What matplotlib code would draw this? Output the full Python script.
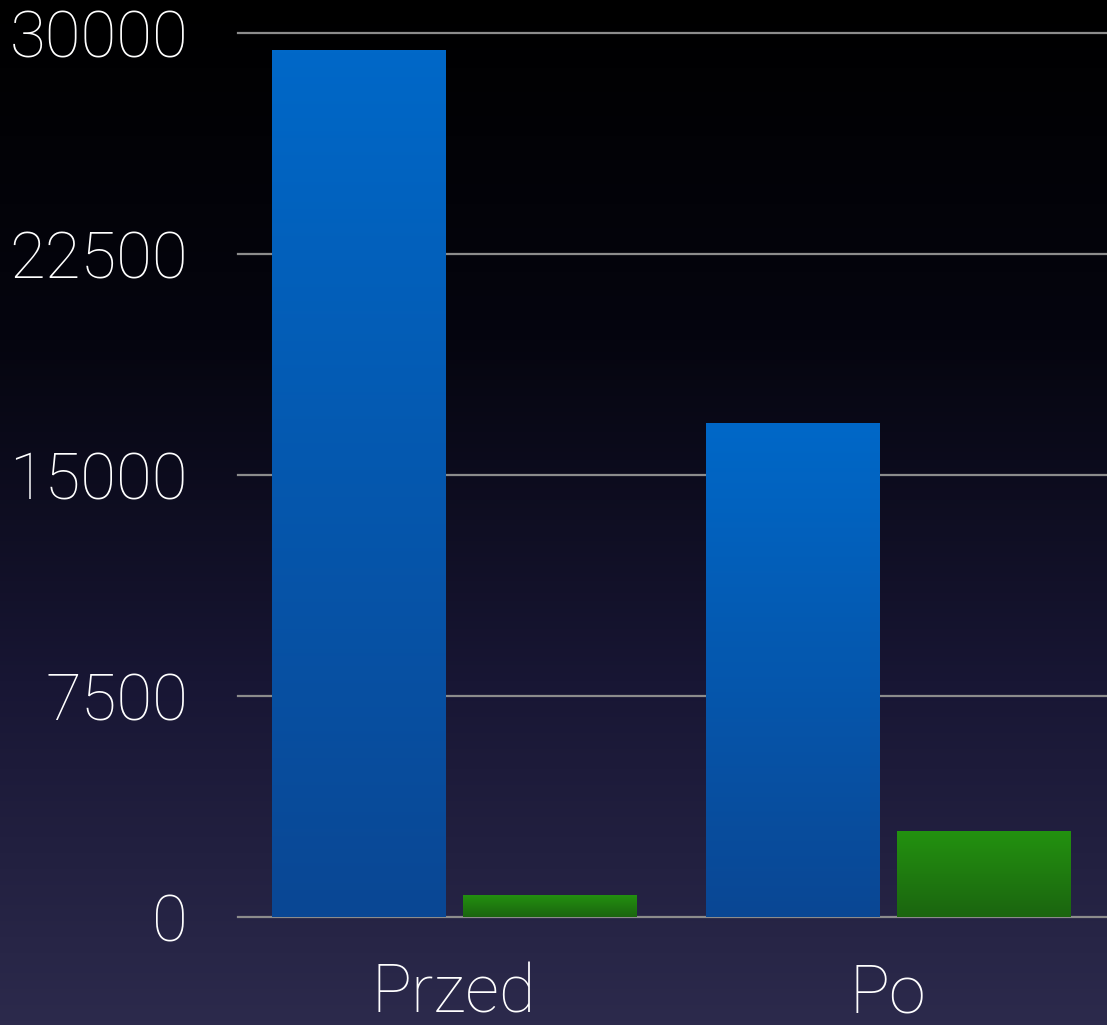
import matplotlib.pyplot as plt
import numpy as np
from matplotlib.colors import LinearSegmentedColormap

# data
categories = ["Przed", "Po"]
blue_vals = [29420, 16770]
green_vals = [750, 2920]
y_ticks = [0, 7500, 15000, 22500, 30000]

plt.rcParams['font.family'] = ['Roboto', 'DejaVu Sans']

fig = plt.figure(figsize=(11.07, 10.25), dpi=100)

# background gradient, black at top to dark purple at bottom
bg = fig.add_axes([0, 0, 1, 1], zorder=0)
bg_cmap = LinearSegmentedColormap.from_list("bg", ["#000000", "#05050f", "#181634", "#2c2a4c"])
bg.imshow(np.linspace(0, 1, 256).reshape(-1, 1), aspect='auto', cmap=bg_cmap,
          extent=[0, 1, 0, 1], origin='upper')
bg.axis('off')

ax = fig.add_axes([238/1107, 1-917/1025, 1-238/1107, (917-33)/1025], zorder=1)
ax.patch.set_alpha(0)

x = np.arange(len(categories))
w = 0.40
off = 0.22

blue_cmap = LinearSegmentedColormap.from_list("b", ["#0a4794", "#0068c8"])
green_cmap = LinearSegmentedColormap.from_list("g", ["#1b650f", "#239210"])

def grad_bars(xs, vals, cmap):
    bars = ax.bar(xs, vals, w, color='none', zorder=3)
    for b, v in zip(bars, vals):
        x0 = b.get_x()
        im = ax.imshow(np.linspace(0, 1, 256).reshape(-1, 1), aspect='auto', cmap=cmap,
                       extent=[x0, x0 + w, 0, v], origin='lower', zorder=3)
        im.set_clip_path(b)

grad_bars(x - off, blue_vals, blue_cmap)
grad_bars(x + off, green_vals, green_cmap)

ax.set_xlim(-0.498, 0.505 + 1)
ax.set_ylim(0, 30000)

for t in y_ticks:
    ax.axhline(t, color='#8c8c8c', lw=1.6, zorder=2, clip_on=False)

ax.set_yticks(y_ticks)
ax.set_yticklabels([str(t) for t in y_ticks], fontsize=47, color='white', fontweight='light')
ax.set_xticks(x)
ax.set_xticklabels(categories, fontsize=48, color='white', fontweight='light')
ax.tick_params(axis='y', length=0, pad=36)
ax.tick_params(axis='x', length=0, pad=33)
for s in ax.spines.values():
    s.set_visible(False)

fig.savefig("out.png", dpi=100)
